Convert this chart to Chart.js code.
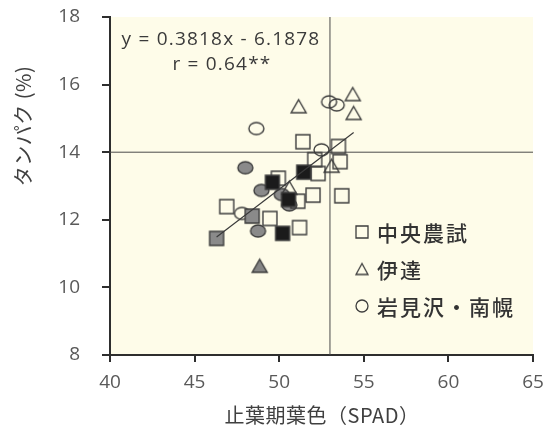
<!DOCTYPE html>
<html>
<head>
<meta charset="utf-8">
<script src="https://cdn.jsdelivr.net/npm/chart.js@4.4.1/dist/chart.umd.min.js"></script>
<style>
  html, body { margin: 0; padding: 0; background: #fff; }
  #wrap { width: 546px; height: 427px; }
</style>
</head>
<body>
<div id="wrap"><canvas id="SPAD"></canvas></div>
<script>
// 中央農試
var sqOpenX = [51.4, 53.5, 53.6, 52.1, 52.3, 49.95, 52.0, 53.7, 51.1, 46.9, 49.45, 51.2];
var sqOpenY = [14.31, 14.17, 13.72, 13.78, 13.37, 13.23, 12.73, 12.71, 12.55, 12.39, 12.04, 11.77];
var sqGrayX = [46.3, 48.4];
var sqGrayY = [11.45, 12.11];
var sqBlackX = [49.6, 51.45, 50.55, 50.2];
var sqBlackY = [13.11, 13.41, 12.6, 11.6];
// 伊達
var triOpenX = [51.15, 54.35, 54.4, 53.1, 50.6];
var triOpenY = [15.36, 15.72, 15.16, 13.6, 12.95];
var triGrayX = [48.85];
var triGrayY = [10.64];
// 岩見沢・南幌
var cirOpenX = [48.65, 52.95, 53.4, 52.5, 47.8];
var cirOpenY = [14.7, 15.49, 15.4, 14.07, 12.19];
var cirGrayX = [48.0, 48.95, 48.75, 50.6, 50.15];
var cirGrayY = [13.54, 12.87, 11.67, 12.44, 12.75];
// regression line ends and reference lines
var fitX = [46.3, 54.4];
var fitY = [11.49, 14.58];
var refSpad = 53;
var refProtein = 14;
var xTicks = [40, 45, 50, 55, 60, 65];
var yTicks = [8, 10, 12, 14, 16, 18];
var legendLabels = ["中央農試", "伊達", "岩見沢・南幌"];

var edge = "#3d3d3d";
var latin = "'Open Sans', 'Noto Sans CJK JP', sans-serif";

function pts(xs, ys) {
  var out = [];
  for (var i = 0; i < xs.length; i++) out.push({x: xs[i], y: ys[i]});
  return out;
}

function marker(shape, fill, w, h, lw) {
  var c = document.createElement("canvas");
  c.width = w + 4; c.height = h + 4;
  var ctx = c.getContext("2d");
  var cx = c.width / 2, cy = c.height / 2;
  ctx.beginPath();
  if (shape == "square") {
    ctx.rect(cx - w / 2, cy - h / 2, w, h);
  } else if (shape == "tri") {
    ctx.moveTo(cx, cy - h / 2);
    ctx.lineTo(cx + w / 2, cy + h / 2);
    ctx.lineTo(cx - w / 2, cy + h / 2);
    ctx.closePath();
  } else {
    ctx.ellipse(cx, cy, w / 2, h / 2, 0, 0, Math.PI * 2);
  }
  if (fill) { ctx.fillStyle = fill; ctx.fill(); }
  ctx.lineWidth = lw || 1.4;
  ctx.strokeStyle = edge;
  ctx.stroke();
  return c;
}

var mSqOpen = marker("square", null, 14, 14);
var mSqGray = marker("square", "#8a8a8a", 14, 14);
var mSqBlack = marker("square", "#1b1b1b", 14, 14);
var mTriOpen = marker("tri", null, 15, 13);
var mTriGray = marker("tri", "#858585", 15, 13);
var mCirOpen = marker("circle", null, 15, 12);
var mCirGray = marker("circle", "#8a8a8a", 15, 12);

function scatterSet(xs, ys, style, order) {
  return {
    type: "scatter",
    data: pts(xs, ys),
    pointStyle: style,
    pointRadius: 8,
    order: order
  };
}

var extras = {
  id: "extras",
  beforeDraw: function(chart) {
    var a = chart.chartArea, ctx = chart.ctx;
    ctx.save();
    ctx.fillStyle = "#fefce9";
    ctx.fillRect(a.left, a.top, a.right - a.left, a.bottom - a.top);
    ctx.restore();
  },
  afterDraw: function(chart) {
    var ctx = chart.ctx;
    ctx.save();
    // equation
    ctx.fillStyle = "#3a3a3a";
    ctx.font = "19px " + latin;
    ctx.letterSpacing = "1.2px";
    ctx.textAlign = "center";
    ctx.textBaseline = "middle";
    ctx.fillText("y = 0.3818x - 6.1878", 221, 40);
    ctx.fillText("r = 0.64**", 222, 65);
    // legend
    var syms = [marker("square", null, 12, 12, 1.3), marker("tri", null, 12, 11, 1.3), marker("circle", null, 12, 12, 1.3)];
    var rows = [232, 269, 306];
    ctx.textAlign = "left";
    ctx.font = "500 21px 'Noto Sans CJK JP', sans-serif";
    ctx.letterSpacing = "2px";
    ctx.fillStyle = "#333";
    for (var i = 0; i < legendLabels.length; i++) {
      ctx.drawImage(syms[i], 362 - syms[i].width / 2, rows[i] - syms[i].height / 2);
      ctx.fillText(legendLabels[i], 377, rows[i] + 1);
    }
    // axis titles
    ctx.fillStyle = "#404040";
    ctx.font = "20px 'Noto Sans CJK JP', sans-serif";
    ctx.letterSpacing = "0.5px";
    ctx.textAlign = "center";
    ctx.fillText("止葉期葉色（SPAD）", 322, 415);
    ctx.translate(23, 126);
    ctx.rotate(-Math.PI / 2);
    ctx.fillText("タンパク (%)", 0, 0);
    ctx.restore();
  }
};

var chart = new Chart(document.getElementById("SPAD"), {
  type: "scatter",
  data: {
    datasets: [
      {type: "line", data: pts(fitX, fitY), borderColor: "#3a3a3a", borderWidth: 1.2, pointRadius: 0, order: 0},
      scatterSet(sqBlackX, sqBlackY, mSqBlack, 1),
      scatterSet(sqGrayX, sqGrayY, mSqGray, 2),
      scatterSet(sqOpenX, sqOpenY, mSqOpen, 3),
      scatterSet(triOpenX, triOpenY, mTriOpen, 3),
      scatterSet(triGrayX, triGrayY, mTriGray, 3),
      scatterSet(cirOpenX, cirOpenY, mCirOpen, 3),
      scatterSet(cirGrayX, cirGrayY, mCirGray, 4),
      {type: "line", data: [{x: refSpad, y: 8}, {x: refSpad, y: 18}], borderColor: "#4a4a4a", borderWidth: 1, pointRadius: 0, order: 9},
      {type: "line", data: [{x: 40, y: refProtein}, {x: 65, y: refProtein}], borderColor: "#4a4a4a", borderWidth: 1, pointRadius: 0, order: 9}
    ]
  },
  options: {
    responsive: true,
    maintainAspectRatio: false,
    animation: false,
    events: [],
    layout: {padding: {top: 17, right: 13, left: 0, bottom: 0}},
    plugins: {legend: {display: false}, tooltip: {enabled: false}},
    scales: {
      x: {
        type: "linear", min: 40, max: 65,
        afterBuildTicks: function(s) { s.ticks = xTicks.map(function(v) { return {value: v}; }); },
        afterFit: function(s) { s.height = 72; s.paddingLeft = 0; s.paddingRight = 0; },
        border: {color: "#2e2e2e", width: 2},
        grid: {drawOnChartArea: false, tickLength: 7, color: "#2e2e2e", lineWidth: 2},
        ticks: {color: "#595959", font: {family: latin, size: 19}, padding: 9}
      },
      y: {
        type: "linear", min: 8, max: 18,
        afterBuildTicks: function(s) { s.ticks = yTicks.map(function(v) { return {value: v}; }); },
        afterFit: function(s) { s.width = 110; s.paddingTop = 0; s.paddingBottom = 0; },
        border: {color: "#2e2e2e", width: 2},
        grid: {drawOnChartArea: false, tickLength: 8, color: "#2e2e2e", lineWidth: 2},
        ticks: {color: "#595959", font: {family: latin, size: 19}, padding: 22}
      }
    }
  },
  plugins: [extras]
});
</script>
</body>
</html>
